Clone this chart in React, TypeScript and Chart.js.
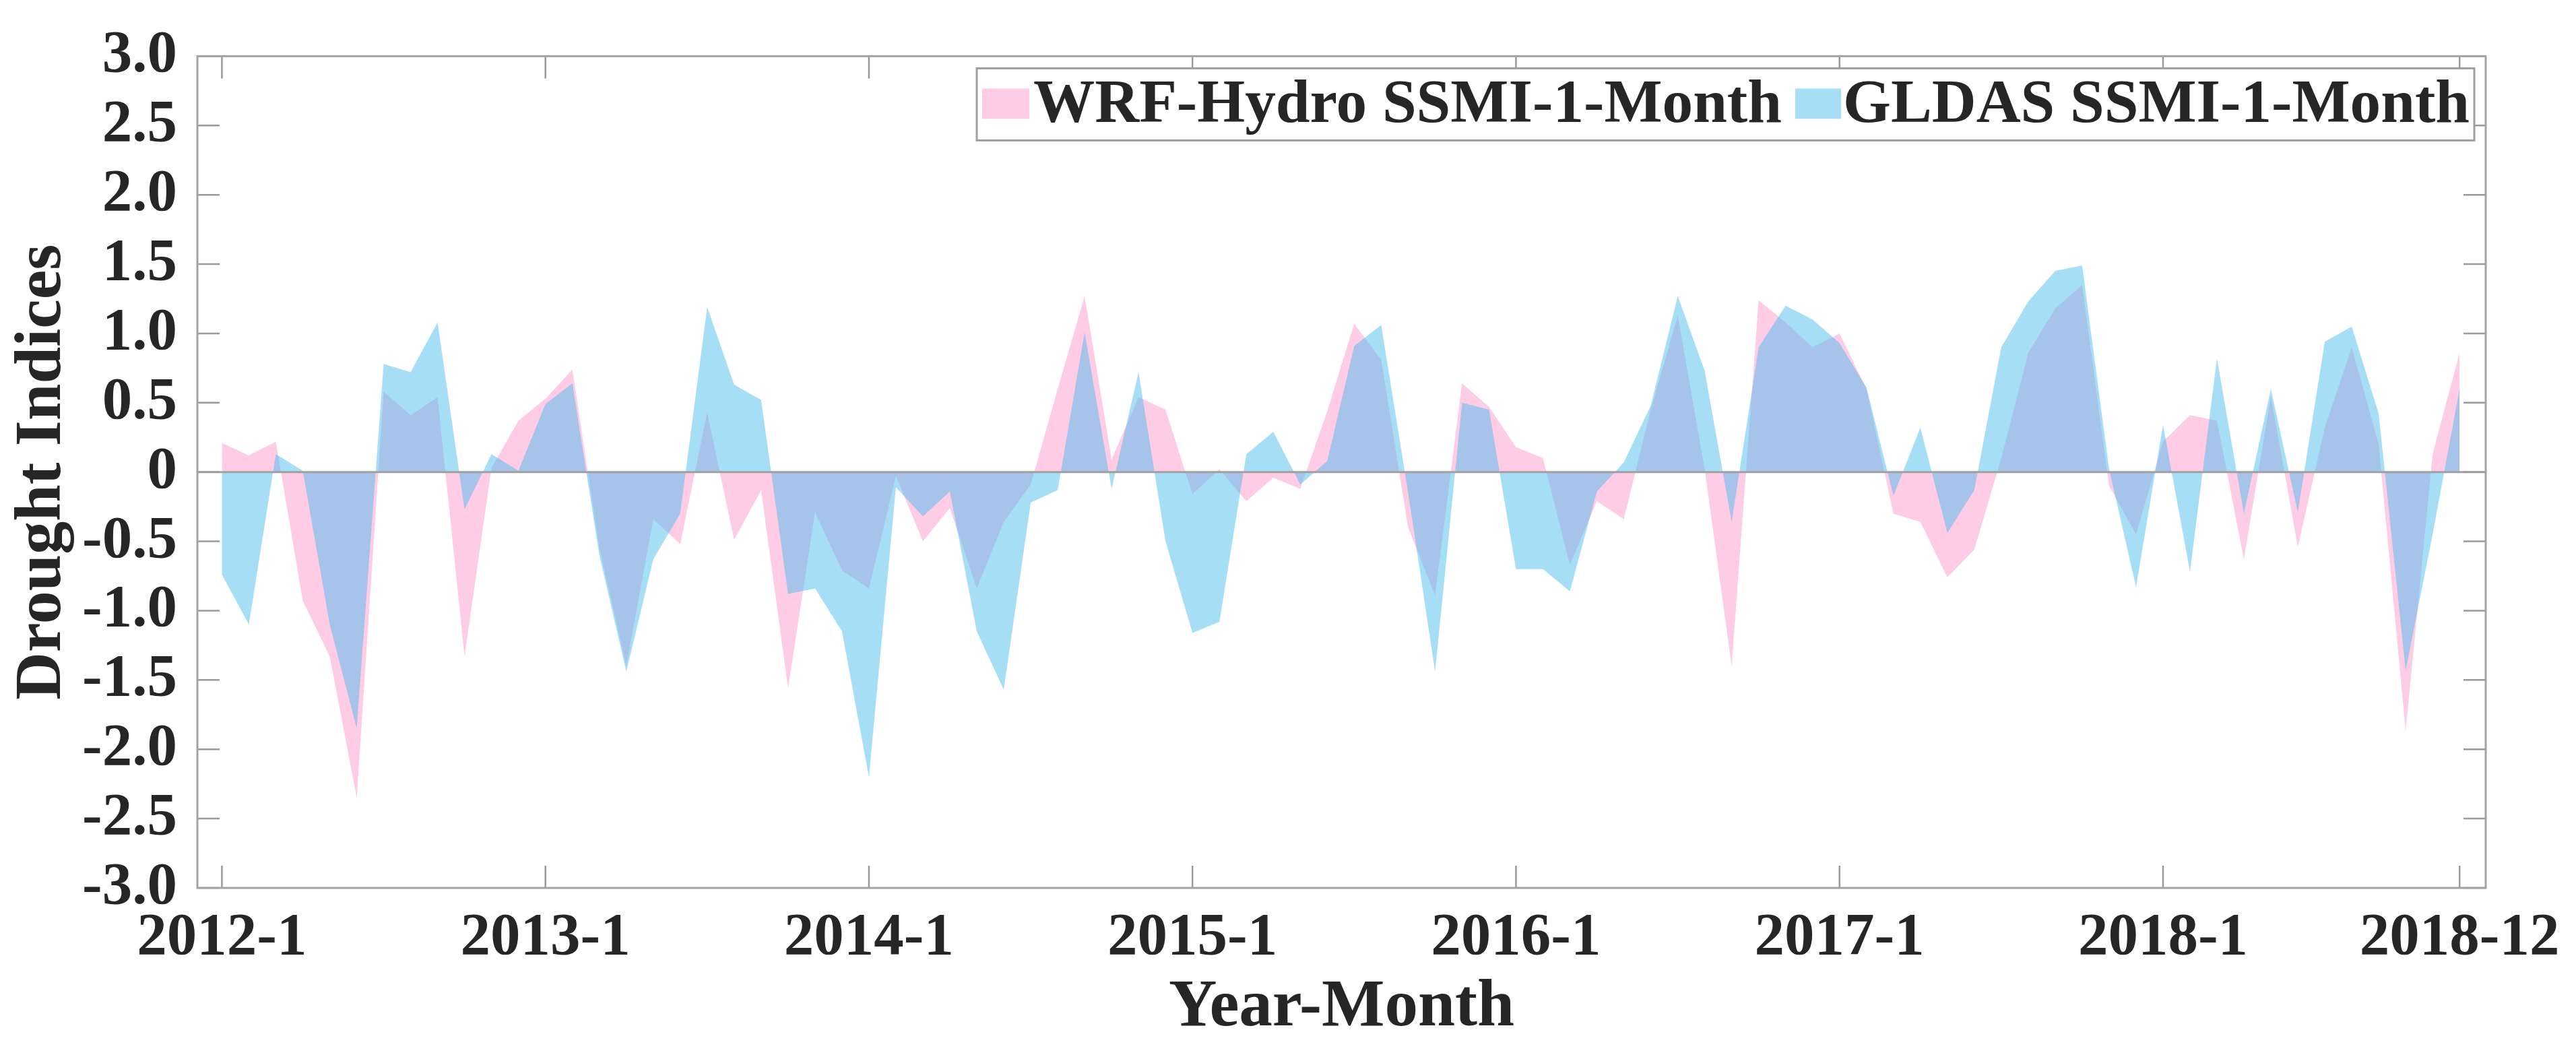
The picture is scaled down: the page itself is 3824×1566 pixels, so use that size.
import React, { useEffect, useRef } from 'react';
import { Chart, registerables } from 'chart.js';

Chart.register(...registerables);

const months = [
  '2012-1', '2012-2', '2012-3', '2012-4', '2012-5', '2012-6', '2012-7', '2012-8', '2012-9', '2012-10', '2012-11', '2012-12',
  '2013-1', '2013-2', '2013-3', '2013-4', '2013-5', '2013-6', '2013-7', '2013-8', '2013-9', '2013-10', '2013-11', '2013-12',
  '2014-1', '2014-2', '2014-3', '2014-4', '2014-5', '2014-6', '2014-7', '2014-8', '2014-9', '2014-10', '2014-11', '2014-12',
  '2015-1', '2015-2', '2015-3', '2015-4', '2015-5', '2015-6', '2015-7', '2015-8', '2015-9', '2015-10', '2015-11', '2015-12',
  '2016-1', '2016-2', '2016-3', '2016-4', '2016-5', '2016-6', '2016-7', '2016-8', '2016-9', '2016-10', '2016-11', '2016-12',
  '2017-1', '2017-2', '2017-3', '2017-4', '2017-5', '2017-6', '2017-7', '2017-8', '2017-9', '2017-10', '2017-11', '2017-12',
  '2018-1', '2018-2', '2018-3', '2018-4', '2018-5', '2018-6', '2018-7', '2018-8', '2018-9', '2018-10', '2018-11', '2018-12',
];

const wrfHydro = [
  0.21, 0.12, 0.22, -0.93, -1.33, -2.35, 0.58, 0.41, 0.54, -1.33, 0.03, 0.37,
  0.53, 0.74, -0.55, -1.40, -0.34, -0.52, 0.43, -0.49, -0.13, -1.56, -0.29, -0.71,
  -0.84, -0.03, -0.50, -0.26, -0.84, -0.36, -0.09, 0.60, 1.27, 0.09, 0.54, 0.45,
  -0.16, 0.02, -0.21, -0.04, -0.12, 0.44, 1.07, 0.81, -0.40, -0.89, 0.64, 0.47,
  0.18, 0.10, -0.67, -0.21, -0.34, 0.45, 1.13, 0.02, -1.40, 1.24, 1.08, 0.90,
  1.00, 0.60, -0.30, -0.36, -0.76, -0.56, 0.10, 0.86, 1.18, 1.35, -0.10, -0.45,
  0.22, 0.41, 0.37, -0.63, 0.55, -0.54, 0.32, 0.90, 0.20, -1.87, 0.13, 0.86,
];

const gldas = [
  -0.74, -1.10, 0.13, 0.01, -1.10, -1.85, 0.78, 0.72, 1.08, -0.27, 0.13, 0.01,
  0.49, 0.64, -0.60, -1.44, -0.63, -0.30, 1.19, 0.63, 0.52, -0.88, -0.84, -1.15,
  -2.20, -0.11, -0.32, -0.14, -1.15, -1.57, -0.22, -0.13, 1.01, -0.12, 0.72, -0.50,
  -1.16, -1.08, 0.13, 0.29, -0.09, 0.08, 0.91, 1.06, -0.15, -1.44, 0.50, 0.45,
  -0.70, -0.70, -0.86, -0.14, 0.07, 0.48, 1.27, 0.73, -0.36, 0.90, 1.20, 1.10,
  0.93, 0.61, -0.17, 0.32, -0.44, -0.13, 0.90, 1.23, 1.45, 1.49, 0.02, -0.83,
  0.34, -0.72, 0.82, -0.30, 0.60, -0.29, 0.94, 1.05, 0.42, -1.43, -0.45, 0.60,
];

const xTickLabels = ['2012-1', '2013-1', '2014-1', '2015-1', '2016-1', '2017-1', '2018-1', '2018-12'];
const yTickValues = [-3, -2.5, -2, -1.5, -1, -0.5, 0, 0.5, 1, 1.5, 2, 2.5, 3];
const legendLabels = ['WRF-Hydro SSMI-1-Month', 'GLDAS SSMI-1-Month'];

const W = 3824;
const H = 1566;
const FONT = '"Liberation Serif", "Times New Roman", Times, serif';
const TEXT = '#262626';
const AXIS = '#a3a3a3';
const PINK = 'rgba(255,153,204,0.5)';
const BLUE = 'rgba(77,190,238,0.5)';

export default function App() {
  const ref = useRef<HTMLCanvasElement>(null);

  useEffect(() => {
    document.body.style.margin = '0';
    const canvas = ref.current;
    if (!canvas) return;
    const tickIdx = xTickLabels.map((l) => months.indexOf(l));

    const decor = {
      id: 'decor',
      afterDatasetsDraw(chart: any) {
        const { ctx, chartArea } = chart;
        const y0 = chart.scales.y.getPixelForValue(0);
        ctx.save();
        ctx.strokeStyle = '#a0a0a0';
        ctx.lineWidth = 3;
        ctx.beginPath();
        ctx.moveTo(chartArea.left, y0);
        ctx.lineTo(chartArea.right, y0);
        ctx.stroke();
        ctx.restore();
      },
      afterDraw(chart: any) {
        const { ctx, chartArea } = chart;
        const { left, right, top, bottom } = chartArea;
        const xs = chart.scales.x;
        const ys = chart.scales.y;
        ctx.save();
        // inner tick marks
        ctx.strokeStyle = '#9a9a9a';
        ctx.lineWidth = 2.5;
        const tl = 33;
        ctx.beginPath();
        yTickValues.forEach((v) => {
          const py = ys.getPixelForValue(v);
          ctx.moveTo(left, py);
          ctx.lineTo(left + tl, py);
          ctx.moveTo(right, py);
          ctx.lineTo(right - tl, py);
        });
        tickIdx.forEach((i) => {
          const px = xs.getPixelForValue(i);
          ctx.moveTo(px, bottom);
          ctx.lineTo(px, bottom - tl);
          ctx.moveTo(px, top);
          ctx.lineTo(px, top + tl);
        });
        ctx.stroke();
        // box
        ctx.strokeStyle = AXIS;
        ctx.lineWidth = 3;
        ctx.strokeRect(left, top, right - left, bottom - top);

        // legend
        const lw = 2223;
        const lh = 107;
        const lx = right - 17 - lw;
        const ly = top + 18;
        ctx.fillStyle = '#ffffff';
        ctx.fillRect(lx, ly, lw, lh);
        ctx.strokeStyle = '#a0a0a0';
        ctx.lineWidth = 3;
        ctx.strokeRect(lx, ly, lw, lh);
        const items = [
          { color: PINK, sx: 8, sw: 70, tx: 84, tw: 1111, text: legendLabels[0] },
          { color: BLUE, sx: 1215, sw: 68, tx: 1286, tw: 930, text: legendLabels[1] },
        ];
        ctx.font = `bold 90px ${FONT}`;
        ctx.textBaseline = 'alphabetic';
        ctx.textAlign = 'left';
        items.forEach((it) => {
          ctx.fillStyle = it.color;
          ctx.fillRect(lx + it.sx, ly + 30, it.sw, 45);
          const m = ctx.measureText(it.text).width;
          ctx.save();
          ctx.translate(lx + it.tx, ly + 80);
          ctx.scale(it.tw / m, 1);
          ctx.fillStyle = TEXT;
          ctx.fillText(it.text, 0, 0);
          ctx.restore();
        });
        ctx.restore();
      },
    };

    const chart = new Chart(canvas, {
      type: 'line',
      data: {
        datasets: [
          {
            label: legendLabels[0],
            data: wrfHydro.map((v, i) => ({ x: i, y: v })),
            backgroundColor: PINK,
            borderColor: 'rgba(0,0,0,0)',
            borderWidth: 0,
            pointRadius: 0,
            fill: 'origin',
            tension: 0,
            order: 1,
          },
          {
            label: legendLabels[1],
            data: gldas.map((v, i) => ({ x: i, y: v })),
            backgroundColor: BLUE,
            borderColor: 'rgba(0,0,0,0)',
            borderWidth: 0,
            pointRadius: 0,
            fill: 'origin',
            tension: 0,
            order: 0,
          },
        ],
      },
      options: {
        animation: false,
        responsive: false,
        devicePixelRatio: 1,
        layout: { padding: { top: 72, right: 134, left: 0, bottom: 0 } },
        plugins: { legend: { display: false }, tooltip: { enabled: false } },
        scales: {
          x: {
            type: 'linear',
            min: -0.91,
            max: 83.97,
            afterBuildTicks: (s: any) => {
              s.ticks = tickIdx.map((v) => ({ value: v }));
            },
            afterFit: (s: any) => {
              s.height = 248;
            },
            grid: { display: false, drawTicks: false },
            border: { display: false },
            ticks: {
              autoSkip: false,
              maxRotation: 0,
              minRotation: 0,
              padding: 22,
              color: TEXT,
              font: { family: FONT, size: 89, weight: 'bold' },
              callback: (v: any) => {
                const k = tickIdx.indexOf(Number(v));
                return k >= 0 ? xTickLabels[k] : '';
              },
            },
            title: {
              display: true,
              text: 'Year-Month',
              color: TEXT,
              font: { family: FONT, size: 99, weight: 'bold' },
              padding: { top: 0, bottom: 10 },
            },
          },
          y: {
            min: -3,
            max: 3,
            afterBuildTicks: (s: any) => {
              s.ticks = yTickValues.map((v) => ({ value: v }));
            },
            afterFit: (s: any) => {
              s.width = 293;
            },
            grid: { display: false, drawTicks: false },
            border: { display: false },
            ticks: {
              autoSkip: false,
              padding: 30,
              color: TEXT,
              font: { family: FONT, size: 89, weight: 'bold' },
              callback: (v: any) => {
                const n = Number(v);
                return Math.abs(n) < 1e-9 ? '0' : n.toFixed(1);
              },
            },
            title: {
              display: true,
              text: 'Drought Indices',
              color: TEXT,
              font: { family: FONT, size: 98, weight: 'bold' },
              padding: { top: 5, bottom: 0 },
            },
          },
        },
      },
      plugins: [decor],
    } as any);

    return () => chart.destroy();
  }, []);

  return <canvas ref={ref} width={W} height={H} style={{ display: 'block', width: W, height: H }} />;
}
